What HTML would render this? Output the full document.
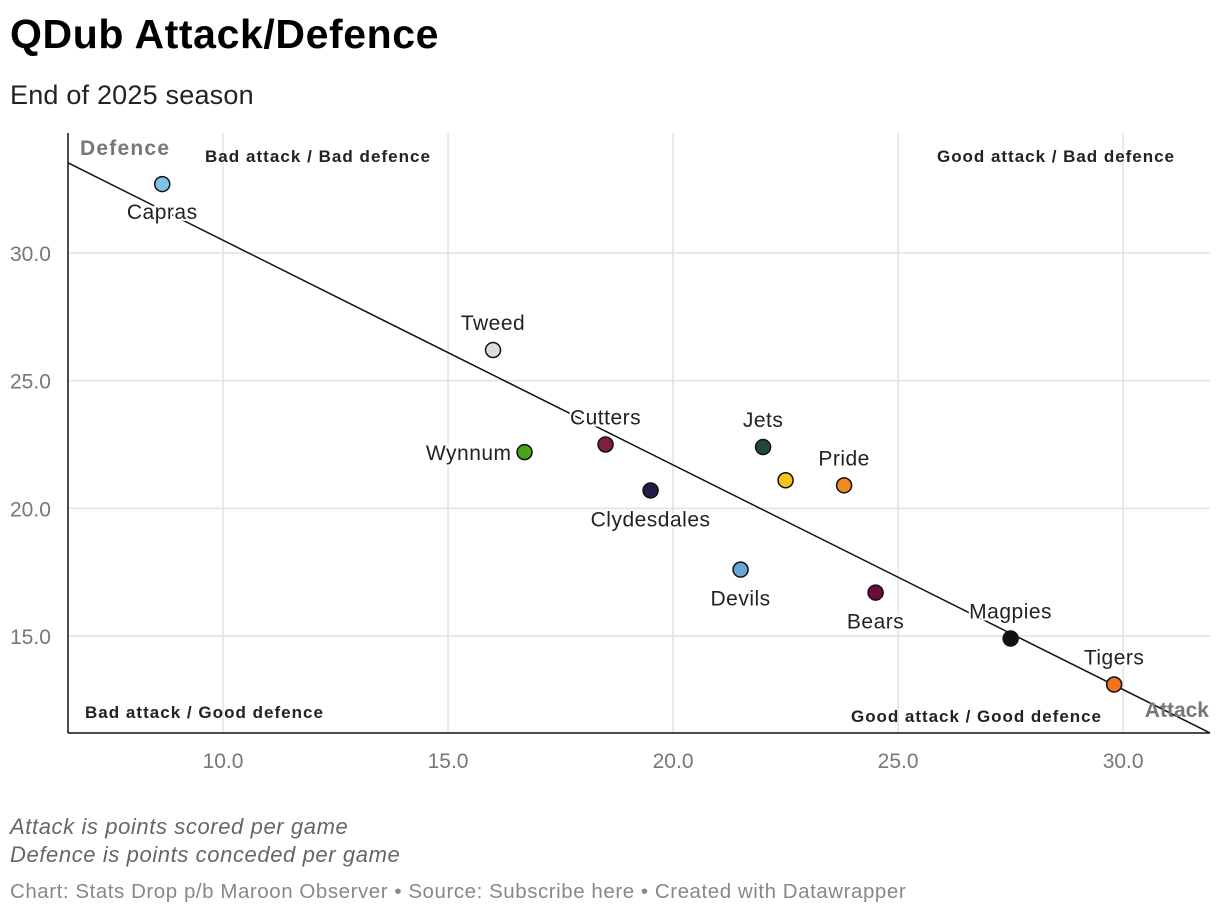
<!DOCTYPE html>
<html><head><meta charset="utf-8"><style>
body{margin:0;background:#fff;font-family:"Liberation Sans",sans-serif;}
#wrap{position:relative;width:1220px;height:916px;overflow:hidden;}
.t{position:absolute;white-space:nowrap;}
</style></head><body>
<div id="wrap">
<div class="t" style="left:10px;top:11px;font-size:41px;font-weight:bold;color:#000;letter-spacing:0.6px">QDub Attack/Defence</div>
<div class="t" style="left:10px;top:80px;font-size:27px;color:#222;letter-spacing:0.2px">End of 2025 season</div>
<svg id="plot" width="1220" height="916" style="position:absolute;left:0;top:0"></svg>
<div class="t" style="left:10px;top:814px;font-size:22px;font-style:italic;color:#666;letter-spacing:0.6px">Attack is points scored per game</div>
<div class="t" style="left:10px;top:842px;font-size:22px;font-style:italic;color:#666;letter-spacing:0.6px">Defence is points conceded per game</div>
<div class="t" style="left:10px;top:880px;font-size:20.5px;color:#888;letter-spacing:0.55px">Chart: Stats Drop p/b Maroon Observer • Source: Subscribe here • Created with Datawrapper</div>
</div>
<script>
const teams=["Capras","Tweed","Wynnum","Cutters","Clydesdales","Devils","Jets","","Pride","Bears","Magpies","Tigers"];
const attack=[8.65,16.0,16.7,18.5,19.5,21.5,22.0,22.5,23.8,24.5,27.5,29.8];
const defence=[32.7,26.2,22.2,22.5,20.7,17.6,22.4,21.1,20.9,16.7,14.9,13.1];
const colors=["#7ec3e6","#dddddd","#4aa31c","#7d1f45","#231c4b","#6aa3d8","#1f4a35","#f5c518","#f08a24","#6b0f3a","#111111","#f0741d"];
const xTicks=[10,15,20,25,30];
const yTicks=[15,20,25,30];
const trendSlope=-0.88, trendIntercept=39.3;
const L=68,R=1210,T=133,B=733,xmin=6.556,xmax=31.93,ymin=11.2,ymax=34.7;
const X=v=>L+(v-xmin)/(xmax-xmin)*(R-L);
const Y=v=>B-(v-ymin)/(ymax-ymin)*(B-T);
const svg=document.getElementById('plot');const NS='http://www.w3.org/2000/svg';
function mk(tag,a,txt){const e=document.createElementNS(NS,tag);for(const k in a)e.setAttribute(k,a[k]);if(txt!==undefined)e.textContent=txt;svg.appendChild(e);return e;}
xTicks.forEach(v=>{const g=mk('line',{x1:X(v),x2:X(v),y1:T,y2:B,stroke:'#e2e2e2','stroke-width':1.5});

const t=mk('text',{x:X(v),y:B+35,'text-anchor':'middle','font-size':21,fill:'#777','font-family':'Liberation Sans'},v.toFixed(1));
});
yTicks.forEach(v=>{const g=mk('line',{x1:L,x2:R,y1:Y(v),y2:Y(v),stroke:'#e2e2e2','stroke-width':1.5});

const t=mk('text',{x:10,y:Y(v)+8,'font-size':21,fill:'#777','font-family':'Liberation Sans'},v.toFixed(1));
});
let ax=mk('line',{x1:L,x2:L,y1:T,y2:B,stroke:'#111','stroke-width':1.5});
ax=mk('line',{x1:L,x2:R,y1:B,y2:B,stroke:'#111','stroke-width':1.5});
const tl=mk('line',{x1:X(xmin),y1:Y(trendIntercept+trendSlope*xmin),x2:X(xmax),y2:Y(trendIntercept+trendSlope*xmax),stroke:'#111','stroke-width':1.5});

const quads=[["Bad attack / Bad defence",205,162,225],["Good attack / Bad defence",937,162,237],["Bad attack / Good defence",85,718,238],["Good attack / Good defence",851,722,250]];
quads.forEach(q=>{const t=mk('text',{x:q[1],y:q[2],'font-size':17,'font-weight':'bold',fill:'#222','font-family':'Liberation Sans',textLength:q[3],lengthAdjust:'spacing'},q[0]);
});
let a=mk('text',{x:80,y:155,'font-size':21,'font-weight':'bold',fill:'#777','font-family':'Liberation Sans',textLength:89},'Defence');
a=mk('text',{x:1209,y:717,'text-anchor':'end','font-size':21,'font-weight':'bold',fill:'#777','font-family':'Liberation Sans'},'Attack');
const off={"Capras":[0,35,'middle'],"Tweed":[0,-20,'middle'],"Wynnum":[-13,8,'end'],"Cutters":[0,-20,'middle'],"Clydesdales":[0,36,'middle'],"Devils":[0,36,'middle'],"Jets":[0,-20,'middle'],"Pride":[0,-20,'middle'],"Bears":[0,36,'middle'],"Magpies":[0,-20,'middle'],"Tigers":[0,-20,'middle']};
attack.forEach((v,i)=>{const c=mk('circle',{cx:X(v),cy:Y(defence[i]),r:7.5,fill:colors[i],stroke:'#111','stroke-width':1.5});

if(teams[i]){const o=off[teams[i]];const t=mk('text',{x:X(v)+o[0],y:Y(defence[i])+o[1],'text-anchor':o[2],'font-size':21,fill:'#222','font-family':'Liberation Sans',stroke:'#fff','stroke-width':4,'paint-order':'stroke','letter-spacing':0.5},teams[i]);
}});
</script>
</body></html>
